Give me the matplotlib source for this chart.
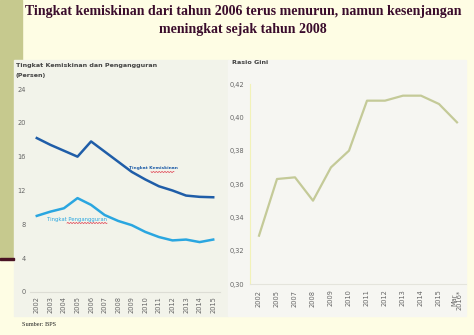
import numpy as np
import matplotlib.pyplot as plt
from matplotlib.patches import Rectangle

# poverty & unemployment rate (percent)
years_left = ['2002', '2003', '2004', '2005', '2006', '2007', '2008',
              '2009', '2010', '2011', '2012', '2013', '2014', '2015']
kemiskinan = [18.2, 17.4, 16.7, 16.0, 17.8, 16.6, 15.4, 14.2, 13.3, 12.5, 12.0, 11.4, 11.25, 11.2]
pengangguran = [9.0, 9.5, 9.9, 11.1, 10.3, 9.1, 8.4, 7.9, 7.1, 6.5, 6.1, 6.2, 5.9, 6.2]

# gini ratio
years_right = ['2002', '2005', '2007', '2008', '2009', '2010', '2011',
               '2012', '2013', '2014', '2015', 'Mar\n2016*']
gini = [0.329, 0.363, 0.364, 0.350, 0.370, 0.380, 0.410, 0.410, 0.413, 0.413, 0.408, 0.397]

W, H = 474, 335
fig = plt.figure(figsize=(W / 100, H / 100), dpi=100)
fig.patch.set_facecolor('#FEFDE4')

def box(x0, y0, x1, y1):
    # pixel box (top-left origin) -> figure fraction rect
    return [x0 / W, 1 - y1 / H, (x1 - x0) / W, (y1 - y0) / H]

def rect(x0, y0, x1, y1, color, z):
    fig.patches.append(Rectangle((x0 / W, 1 - y1 / H), (x1 - x0) / W, (y1 - y0) / H,
                                 transform=fig.transFigure, color=color, zorder=z))

def squiggle(x0, x1, y):
    # red spell-check underline, pixel coords
    xs = np.linspace(x0, x1, int((x1 - x0) * 2))
    ys = y + 0.6 * np.sin(xs * 2.2)
    fig.add_artist(plt.Line2D(xs / W, 1 - ys / H, transform=fig.transFigure,
                              color='#E04050', lw=0.5, zorder=5))

# slide decorations
rect(0, 0, 22, 258, '#C6C98E', -3)
rect(0, 257.5, 14, 260, '#4A1424', -2)
rect(14, 60, 228, 316, '#F2F3EA', -3)
rect(228, 60, 466, 316, '#F6F6F2', -3)

title_kw = dict(ha='center', va='center', fontsize=10, fontweight='bold',
                family='Liberation Serif', color='#3A0C2C')
fig.text(243 / W, 1 - 12 / H, 'Tingkat kemiskinan dari tahun 2006 terus menurun, namun kesenjangan',
         **title_kw)
fig.text(243 / W, 1 - 30 / H, 'meningkat sejak tahun 2008', **title_kw)
fig.text(22 / W, 1 - 324 / H, 'Sumber: BPS', ha='left', va='center', fontsize=4.5,
         family='Liberation Serif', color='#222222')

tick_color = '#666666'

# left chart
ax1 = fig.add_axes(box(30, 89, 220, 292))
ax1.patch.set_alpha(0)
x1 = np.arange(len(years_left))
ax1.plot(x1, kemiskinan, color='#1F5DA8', lw=1.8)
ax1.plot(x1, pengangguran, color='#2AA6E0', lw=1.8)
ax1.set_xlim(-0.5, 13.5)
ax1.set_ylim(0, 24)
ax1.set_yticks([0, 4, 8, 12, 16, 20, 24])
ax1.set_xticks(x1)
ax1.set_xticklabels(years_left, rotation=90)
for s in ['top', 'right', 'left']:
    ax1.spines[s].set_visible(False)
ax1.spines['bottom'].set_color('#DDDDD5')
ax1.tick_params(length=0, labelsize=4.8, colors=tick_color, pad=3)
ax1.text(8.56, 14.66, 'Tingkat Kemiskinan', fontsize=3.2, fontweight='bold',
         color='#1F5DA8', ha='center', va='center')
ax1.text(2.93, 8.63, 'Tingkat Pengangguran', fontsize=3.8,
         color='#2AA6E0', ha='center', va='center')
squiggle(151, 174, 172)
squiggle(67, 107, 223)

fig.text(16 / W, 1 - 66 / H, 'Tingkat Kemiskinan dan Pengangguran', fontsize=4.6,
         fontweight='bold', color='#444444', va='center')
fig.text(16 / W, 1 - 76 / H, '(Persen)', fontsize=4.6, fontweight='bold',
         color='#444444', va='center')

# right chart
ax2 = fig.add_axes(box(250, 84, 466, 284))
ax2.patch.set_alpha(0)
x2 = np.arange(len(years_right))
ax2.plot(x2, gini, color='#C4CA98', lw=1.6)
ax2.set_xlim(-0.5, 11.5)
ax2.set_ylim(0.30, 0.42)
ax2.set_yticks([0.30, 0.32, 0.34, 0.36, 0.38, 0.40, 0.42])
ax2.set_yticklabels(['0,30', '0,32', '0,34', '0,36', '0,38', '0,40', '0,42'])
ax2.set_xticks(x2)
ax2.set_xticklabels(years_right, rotation=90, va='top', linespacing=0.9)
for s in ['top', 'right']:
    ax2.spines[s].set_visible(False)
ax2.spines['left'].set_color('#F2F2B8')
ax2.spines['bottom'].set_color('#E4E4DC')
ax2.tick_params(length=0, labelsize=4.8, colors=tick_color, pad=4)

fig.text(232 / W, 1 - 62 / H, 'Rasio Gini', fontsize=4.6, fontweight='bold',
         color='#444444', va='center')

fig.savefig('out.png', dpi=100, facecolor=fig.get_facecolor())
